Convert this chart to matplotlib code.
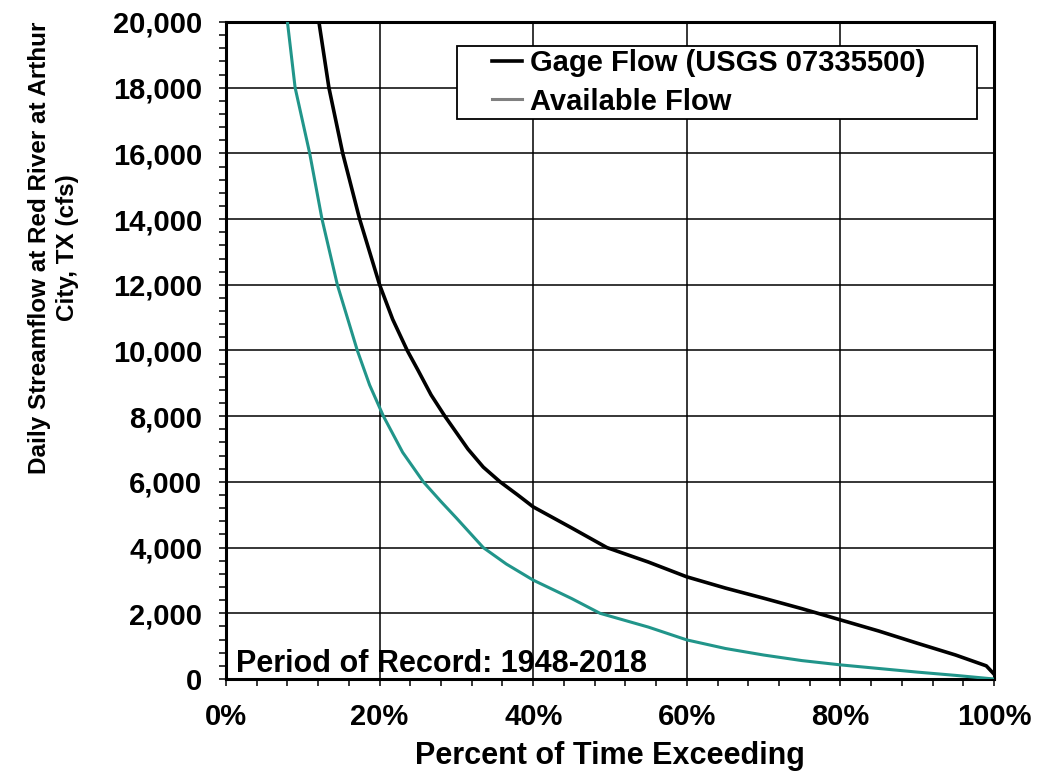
import matplotlib
matplotlib.use("Agg")
import matplotlib.pyplot as plt
from matplotlib.ticker import MultipleLocator, FuncFormatter
from matplotlib.lines import Line2D
from matplotlib.patches import Rectangle

# Flow-duration data: percent of time exceeded vs. daily streamflow (cfs)
pct_gage = [12.1, 13.4, 15.2, 17.4, 20.0, 21.7, 23.6, 25.0, 26.7, 28.5, 31.5, 33.5,
            35.7, 38.0, 40.0, 45.0, 49.6, 55.0, 60.0, 65.0, 70.0, 75.0, 80.0, 85.0,
            90.0, 95.0, 99.0, 100.0]
gage_flow = [20000, 18000, 16000, 14000, 12000, 10950, 10000, 9400, 8650, 8000, 7000, 6450,
             6000, 5600, 5240, 4600, 4000, 3560, 3110, 2770, 2460, 2140, 1800, 1460,
             1090, 730, 400, 150]

pct_avail = [8.0, 9.0, 10.9, 12.5, 14.5, 17.1, 18.7, 20.5, 23.0, 25.7, 28.0, 30.0, 33.5,
             36.5, 40.0, 45.0, 48.7, 52.0, 55.0, 60.0, 65.0, 70.0, 75.0, 80.0, 90.0,
             95.0, 100.0]
avail_flow = [20000, 18000, 16000, 14000, 12000, 10000, 8950, 8000, 6900, 6000, 5400, 4900, 4000,
              3500, 3010, 2450, 2000, 1780, 1580, 1190, 930, 730, 560, 430, 210,
              110, 0]

series_labels = ["Gage Flow (USGS 07335500)", "Available Flow"]
x_label = "Percent of Time Exceeding"
y_label = "Daily Streamflow at Red River at Arthur\nCity, TX (cfs)"
note = "Period of Record: 1948-2018"

TEAL = "#21958a"

plt.rcParams["font.family"] = ["Liberation Sans", "DejaVu Sans"]
plt.rcParams["font.weight"] = "bold"

W, H = 1039, 772
fig = plt.figure(figsize=(W / 100, H / 100), dpi=100)
fig.patch.set_facecolor("white")
ax = fig.add_axes([226 / W, 1 - 679 / H, 768 / W, 657 / H])

ax.plot(pct_gage, gage_flow, color="black", lw=2.6, zorder=3,
        solid_joinstyle="round")
ax.plot(pct_avail, avail_flow, color=TEAL, lw=2.2, zorder=3,
        solid_joinstyle="round")

ax.set_xlim(0, 100)
ax.set_ylim(0, 20000)
ax.xaxis.set_major_locator(MultipleLocator(20))
ax.xaxis.set_minor_locator(MultipleLocator(4))
ax.yaxis.set_major_locator(MultipleLocator(2000))
ax.yaxis.set_minor_locator(MultipleLocator(400))
ax.xaxis.set_major_formatter(FuncFormatter(lambda v, p: f"{int(round(v))}%"))
ax.yaxis.set_major_formatter(FuncFormatter(lambda v, p: f"{int(round(v)):,}"))

ax.set_axisbelow(True)
ax.grid(which="major", color="black", lw=1.1)
for s in ax.spines.values():
    s.set_linewidth(2.2)
    s.set_color("black")

ax.tick_params(which="both", direction="out", length=5, width=1.1, color="black",
               top=False, right=False)
ax.tick_params(axis="both", which="major", labelsize=21, pad=12)

ax.set_xlabel(x_label, fontsize=22, fontweight="bold")
ax.xaxis.set_label_coords(0.5, -0.094)
ax.set_ylabel(y_label, fontsize=17.5, fontweight="bold", linespacing=1.25)
ax.yaxis.set_label_coords(-0.192, 0.656)

ax.text(0.013, 0.011, note, transform=ax.transAxes, fontsize=22,
        fontweight="bold", ha="left", va="baseline", zorder=4)

# Legend with short handles and a wide rectangular frame behind it
handles = [Line2D([], [], color="black", lw=2.6),
           Line2D([], [], color="#808080", lw=2.2)]
leg = ax.legend(handles, series_labels, loc="center left",
                bbox_to_anchor=((492 - 226) / 768, (679 - 82.5) / 657),
                frameon=False, fontsize=21, handlelength=1.03, handletextpad=0.27,
                labelspacing=0.35, borderpad=0.0, borderaxespad=0.0)
leg.set_zorder(6)

fig.canvas.draw()
bb = leg.get_window_extent(fig.canvas.get_renderer())
inv = fig.transFigure.inverted()
(x0, y0) = inv.transform((bb.x0 - 35, bb.y0 - 3))
(x1, y1) = inv.transform((bb.x1 + 52, bb.y1 + 3))
frame = Rectangle((x0, y0), x1 - x0, y1 - y0, transform=fig.transFigure,
                  facecolor="white", edgecolor="black", lw=1.3, zorder=5,
                  clip_on=False)
ax.add_artist(frame)

fig.savefig("out.png", dpi=100, facecolor="white")
